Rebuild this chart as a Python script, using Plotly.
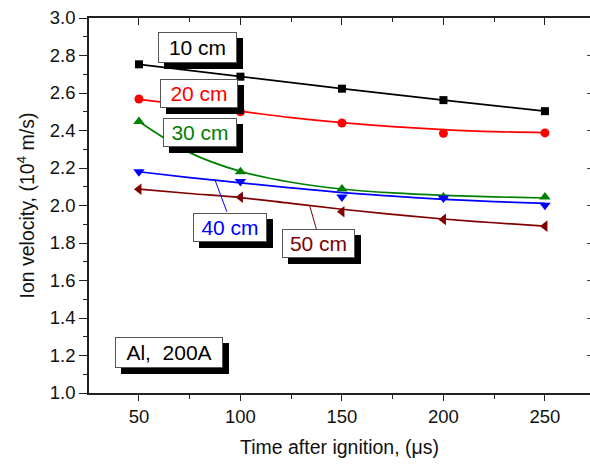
import plotly.graph_objects as go

# ---- data ----
time_us = [50, 100, 150, 200, 250]
v10 = [2.753, 2.687, 2.623, 2.562, 2.503]
v20 = [2.568, 2.500, 2.440, 2.385, 2.387]
v30 = [2.448, 2.180, 2.088, 2.046, 2.046]
v40 = [2.180, 2.128, 2.046, 2.040, 2.002]
v50 = [2.087, 2.044, 1.967, 1.926, 1.890]

# fitted curves as drawn in the reference (read at 25 us steps)
fit_t = [50, 75, 100, 125, 150, 175, 200, 225, 250]
fit20 = [2.566, 2.534, 2.502, 2.469, 2.442, 2.421, 2.405, 2.394, 2.389]
fit30 = [2.448, 2.282, 2.182, 2.124, 2.088, 2.067, 2.054, 2.046, 2.040]
fit40 = [2.180, 2.149, 2.121, 2.094, 2.069, 2.050, 2.033, 2.021, 2.011]
fit50 = [2.087, 2.064, 2.042, 2.011, 1.980, 1.953, 1.928, 1.908, 1.890]

labels = ["10 cm", "20 cm", "30 cm", "40 cm", "50 cm"]
colors = ["#000000", "#FF0000", "#008000", "#0000FF", "#800000"]
FONT = "Liberation Sans, Arial, sans-serif"

fig = go.Figure()

# 10 cm: line through points
fig.add_trace(go.Scatter(x=time_us, y=v10, mode="lines+markers",
                         line=dict(color=colors[0], width=1.7),
                         marker=dict(symbol="square", size=8, color=colors[0])))

series = [(fit20, v20, "circle", 9), (fit30, v30, "triangle-up", 10),
          (fit40, v40, "triangle-down", 10), (fit50, v50, "triangle-left", 10)]
for i, (fit, vals, sym, sz) in enumerate(series, start=1):
    fig.add_trace(go.Scatter(x=fit_t, y=fit, mode="lines",
                             line=dict(color=colors[i], width=1.7, shape="spline", smoothing=1.0)))
    fig.add_trace(go.Scatter(x=time_us, y=vals, mode="markers",
                             marker=dict(symbol=sym, size=sz, color=colors[i])))

# invisible traces to activate the top / right decorative axes
fig.add_trace(go.Scatter(x=[100], y=[2.0], xaxis="x2", yaxis="y", mode="markers",
                         marker=dict(opacity=0), hoverinfo="skip"))
fig.add_trace(go.Scatter(x=[100], y=[2.0], xaxis="x", yaxis="y2", mode="markers",
                         marker=dict(opacity=0), hoverinfo="skip"))

xr = [25.4, 272.2]
yr = [1.0, 3.0]

fig.update_layout(
    width=590, height=467,
    margin=dict(l=89, r=0, t=18, b=74),
    paper_bgcolor="white", plot_bgcolor="white",
    showlegend=False,
    font=dict(family=FONT, color="#111111"),
    xaxis=dict(range=xr, tickvals=[50, 100, 150, 200, 250], ticks="outside", ticklen=6,
               tickwidth=1.3, tickcolor="#222", showline=True, linecolor="#222", linewidth=1.5,
               showgrid=False, zeroline=False, tickfont=dict(size=18.5),
               minor=dict(tickvals=[75, 125, 175, 225], ticks="outside", ticklen=4,
                          tickcolor="#222", tickwidth=1.2),
               title=dict(text="Time after ignition, (\u03bcs)", font=dict(size=19.5), standoff=14)),
    xaxis2=dict(range=xr, overlaying="x", side="top", tickvals=[50, 100, 150, 200, 250],
                ticks="inside", ticklen=7, tickwidth=1.3, tickcolor="#222",
                showline=True, linecolor="#222", linewidth=1.5, showticklabels=False,
                showgrid=False, zeroline=False,
                minor=dict(tickvals=[75, 125, 175, 225], ticks="inside", ticklen=4,
                           tickcolor="#222", tickwidth=1.2)),
    yaxis=dict(range=yr, dtick=0.2, tick0=1.0, tickformat=".1f", ticks="outside", ticklen=8,
               tickwidth=1.3, tickcolor="#222", showline=True, linecolor="#222", linewidth=1.5,
               showgrid=False, zeroline=False, tickfont=dict(size=18.5),
               minor=dict(dtick=0.1, ticks="outside", ticklen=4, tickcolor="#222", tickwidth=1.2),
               title=dict(text="Ion velocity, (10<sup>4</sup> m/s)", font=dict(size=19.5), standoff=10)),
    yaxis2=dict(range=yr, overlaying="y", side="right", dtick=0.2, tick0=1.0, ticks="inside",
                ticklen=3, tickwidth=1.2, tickcolor="#444", showline=False, showticklabels=False,
                showgrid=False, zeroline=False),
)

# label boxes with drop shadows: (text, color, x, y, width, height)
boxes = [
    ("10 cm", colors[0], 78.7, 2.844, 77, 29),
    ("20 cm", colors[1], 79.4, 2.596, 76, 27),
    ("30 cm", colors[2], 79.9, 2.391, 72, 27),
    ("40 cm", colors[3], 94.7, 1.884, 72, 27),
    ("50 cm", colors[4], 138.3, 1.796, 71, 27),
    ("Al,\u00a0 200A", "#000000", 64.6, 1.218, 106, 29),
]
for text, col, bx, by, w, h in boxes:
    # shadow box (no text)
    fig.add_annotation(x=bx, y=by, xref="x", yref="y", text="\u00a0", showarrow=False,
                       xanchor="center", yanchor="middle", width=w, height=h,
                       bgcolor="black", bordercolor="black", borderwidth=1, borderpad=0,
                       font=dict(size=20, color="black", family=FONT), xshift=6, yshift=-6)
    fig.add_annotation(x=bx, y=by, xref="x", yref="y", text=text, showarrow=False,
                       xanchor="center", yanchor="middle", width=w, height=h,
                       bgcolor="white", bordercolor="#555555", borderwidth=1, borderpad=0,
                       font=dict(size=21, color=col, family=FONT))

# leader lines from labels to curves
fig.add_shape(type="line", xref="x", yref="y", x0=93.3, y0=1.967, x1=87.4, y1=2.138,
              line=dict(color=colors[3], width=1))
fig.add_shape(type="line", xref="x", yref="y", x0=137.5, y0=1.871, x1=134.1, y1=1.999,
              line=dict(color=colors[4], width=1))

fig.write_html("out.html")
